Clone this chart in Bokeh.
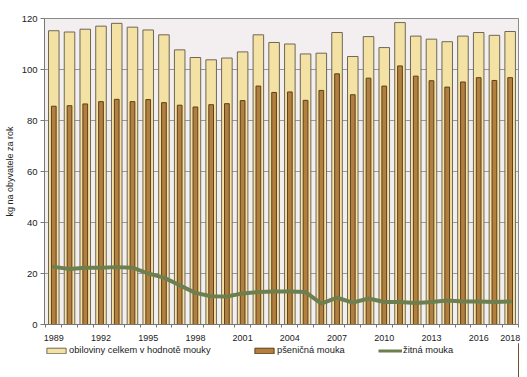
from bokeh.plotting import figure
from bokeh.models import FixedTicker, Legend, LegendItem, ColumnDataSource, Range1d
from bokeh.layouts import column
from bokeh.embed import file_html
from bokeh.resources import INLINE

years = list(range(1989, 2019))
total = [115.2, 114.7, 115.8, 117.0, 118.1, 116.6, 115.5, 113.6, 107.7, 104.7,
         103.8, 104.5, 106.9, 113.6, 110.6, 110.0, 106.1, 106.4, 114.5, 105.1,
         112.9, 108.6, 118.4, 113.1, 111.9, 110.9, 113.1, 114.5, 113.4, 114.9]
wheat = [85.6, 85.8, 86.5, 87.4, 88.3, 87.4, 88.2, 87.0, 86.0, 85.3,
         86.2, 86.6, 87.8, 93.5, 91.0, 91.2, 87.9, 91.8, 98.3, 90.1,
         96.6, 93.5, 101.4, 97.4, 95.6, 93.1, 95.1, 96.8, 95.7, 96.8]
rye = [22.6, 21.8, 22.3, 22.3, 22.5, 22.3, 20.0, 18.4, 15.4, 12.4,
       11.1, 11.0, 12.2, 12.7, 12.9, 12.9, 12.7, 8.2, 10.5, 8.6,
       10.2, 8.8, 8.8, 8.4, 8.8, 9.4, 9.0, 9.0, 8.8, 9.0]
label_years = [1989, 1992, 1995, 1998, 2001, 2004, 2007, 2010, 2013, 2016, 2018]
y_ticks = [0, 20, 40, 60, 80, 100, 120]
labels = ["obiloviny celkem v hodnotě mouky", "pšeničná mouka", "žitná mouka"]

TOTAL_FILL, TOTAL_LINE = "#f4e2a4", "#6e6756"
WHEAT_FILL, WHEAT_LINE = "#b27f3e", "#5c3f1e"
RYE_COLOR = "#6d7f4f"
FONT = "Liberation Sans"

src = ColumnDataSource(dict(year=years, total=total, wheat=wheat, rye=rye))

p = figure(frame_width=474, frame_height=306, output_backend="svg", toolbar_location=None,
           x_range=Range1d(1988.41, 2018.53), y_range=Range1d(0, 120),
           min_border_left=44, min_border_right=9, min_border_top=18, min_border_bottom=16)

p.background_fill_color = "#f3eff0"
p.outline_line_color = "#8a8a8a"
p.outline_line_width = 1

p.vbar(x="year", top="total", width=0.67, bottom=0, source=src,
       fill_color=TOTAL_FILL, line_color=TOTAL_LINE, line_width=1)
p.vbar(x="year", top="wheat", width=0.3, bottom=0, source=src,
       fill_color=WHEAT_FILL, line_color=WHEAT_LINE, line_width=1)
p.line(x="year", y="rye", source=src, line_color=RYE_COLOR, line_width=4,
       line_join="round", line_cap="round")

p.xgrid.grid_line_color = None
p.ygrid.grid_line_color = "#999999"
p.ygrid.grid_line_width = 1
p.ygrid.ticker = FixedTicker(ticks=y_ticks)

p.xaxis.ticker = FixedTicker(ticks=label_years,
                             minor_ticks=[y + 0.5 for y in range(1988, 2019)])
p.xaxis.major_tick_line_color = None
p.xaxis.minor_tick_in = 0
p.xaxis.minor_tick_out = 3
p.xaxis.minor_tick_line_color = "#777777"
p.xaxis.axis_line_color = "#777777"
p.xaxis.major_label_text_font = FONT
p.xaxis.major_label_text_font_size = "9px"
p.xaxis.major_label_text_color = "#222222"
p.xaxis.major_label_standoff = 4

p.yaxis.ticker = FixedTicker(ticks=y_ticks)
p.yaxis.minor_tick_line_color = None
p.yaxis.major_tick_in = 0
p.yaxis.major_tick_out = 4
p.yaxis.major_tick_line_color = "#777777"
p.yaxis.axis_line_color = "#777777"
p.yaxis.major_label_text_font = FONT
p.yaxis.major_label_text_font_size = "9.5px"
p.yaxis.major_label_text_color = "#222222"
p.yaxis.major_label_standoff = 3
p.yaxis.axis_label = "kg na obyvatele za rok"
p.yaxis.axis_label_text_font = FONT
p.yaxis.axis_label_text_font_size = "9px"
p.yaxis.axis_label_text_font_style = "normal"
p.yaxis.axis_label_text_color = "#222222"
p.yaxis.axis_label_standoff = 4

# legend strip (separate figure so the legend can sit below the axis)
lf = figure(width=527, height=37, output_backend="svg", toolbar_location=None,
            x_axis_type=None, y_axis_type=None, x_range=Range1d(0, 1), y_range=Range1d(0, 1),
            min_border=0)
lf.outline_line_color = None
lf.xgrid.grid_line_color = None
lf.ygrid.grid_line_color = None
# proxy glyphs lying outside the visible range, only used for the legend swatches
proxy = ColumnDataSource(dict(x=[5, 6], y=[5, 5]))
g1 = lf.vbar(x="x", top="y", width=0.5, source=proxy, fill_color=TOTAL_FILL, line_color=TOTAL_LINE)
g2 = lf.vbar(x="x", top="y", width=0.5, source=proxy, fill_color=WHEAT_FILL, line_color=WHEAT_LINE)
g3 = lf.line(x="x", y="y", source=proxy, line_color=RYE_COLOR, line_width=3)

for lab, g, xpos in zip(labels, [g1, g2, g3], [0, 208, 334]):
    lg = Legend(items=[LegendItem(label=lab, renderers=[g])], location=(xpos, 25),
                label_text_font=FONT, label_text_font_size="9.3px",
                label_text_color="#222222", glyph_width=24, glyph_height=7,
                label_standoff=1, padding=0, margin=0, label_height=10,
                border_line_color=None, background_fill_alpha=0)
    lf.add_layout(lg, "center")

open("out.html", "w").write(file_html(column(p, lf), INLINE))
